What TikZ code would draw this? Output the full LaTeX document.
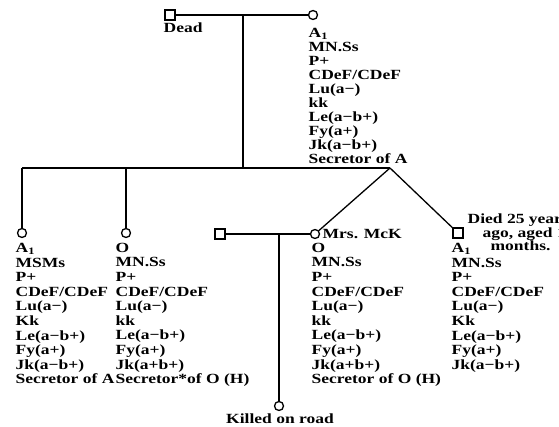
\documentclass[tikz,border=0pt]{standalone}
\usepackage{fontspec}
\setmainfont[FakeStretch=1.25]{Liberation Serif}
\usetikzlibrary{positioning}

\begin{document}
\begin{tikzpicture}[x=1pt, y=-1pt, line width=1.3pt,
  male/.style={draw, line width=1.3pt, minimum size=10pt, inner sep=0pt},
  female/.style={draw, circle, line width=1.3pt, minimum size=9pt, inner sep=0pt},
  geno/.style={font=\fontsize{14}{14.6}\selectfont\bfseries, align=left, anchor=north west, inner sep=0pt},
  word/.style={font=\fontsize{14}{14}\selectfont\bfseries, anchor=base west, inner sep=0pt}]
\useasboundingbox (0,0) rectangle (559,427);
\clip (0,0) rectangle (559,427);
\node[male] (father) at (170,15) {};
\node[female] (mother) at (313,15) {};
\node[word] (dead) at (163,33) {Dead};
\node[geno, font=\fontsize{14}{14}\selectfont\bfseries] (motherg) at (308,27.6)
  {A\textsubscript{1}\\MN.Ss\\P+\\CDeF/CDeF\\Lu(a−)\\kk\\Le(a−b+)\\Fy(a+)\\Jk(a−b+)\\Secretor of A};
\draw (father) -- (mother);
\coordinate (sibL) at (22,168);
\coordinate (sibR) at (390,168);
\coordinate (desc) at (243,168);
\draw (desc |- father) -- (desc);
\draw (sibL) -- (sibR);
\node[female] (c1) at (22,233) {};
\node[female] (c2) at (126,233) {};
\node[female] (c3) at (315,234) {};
\node[male] (c4) at (458,233) {};
\foreach \c in {c1,c2}
  \draw (\c |- sibL) -- (\c);
\draw (sibR) -- (c3);
\draw (sibR) -- (c4);
\node[male] (husb) at (220,234) {};
\node[female] (kid) at (279,406) {};
\draw (husb) -- (c3);
\draw (kid |- husb) -- (kid);
\node[geno] (c1g) at (15,242.6)
  {A\textsubscript{1}\\MSMs\\P+\\CDeF/CDeF\\Lu(a−)\\Kk\\Le(a−b+)\\Fy(a+)\\Jk(a−b+)\\Secretor of A};
\node[geno] (c2g) at (115,242.4)
  {O\\MN.Ss\\P+\\CDeF/CDeF\\Lu(a−)\\kk\\Le(a−b+)\\Fy(a+)\\Jk(a+b+)\\Secretor*of O (H)};
\node[word] (mck) at (322,239) {Mrs. McK};
\node[geno] (c3g) at (311,242.4)
  {O\\MN.Ss\\P+\\CDeF/CDeF\\Lu(a−)\\kk\\Le(a−b+)\\Fy(a+)\\Jk(a+b+)\\Secretor of O (H)};
\node[geno, font=\fontsize{14}{13.5}\selectfont\bfseries] (died) at (467,213.4)
  {Died 25 years\\\hspace*{15pt}ago, aged 1\\\hspace*{23pt}months.};
\node[geno] (c4g) at (451,242.6)
  {A\textsubscript{1}\\MN.Ss\\P+\\CDeF/CDeF\\Lu(a−)\\Kk\\Le(a−b+)\\Fy(a+)\\Jk(a−b+)};
\node[word, anchor=base] (killed) at (280,423) {Killed on road};
\end{tikzpicture}
\end{document}
